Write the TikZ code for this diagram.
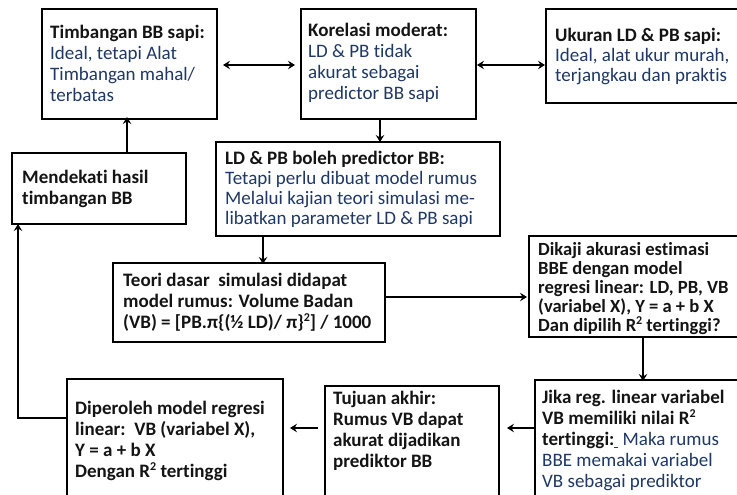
\documentclass[tikz,border=0pt]{standalone}
\usepackage{fontspec}
\setmainfont{Carlito}[Ligatures=NoCommon]
\usetikzlibrary{arrows.meta}
\definecolor{navy}{RGB}{31,56,100}
\definecolor{ink}{RGB}{20,20,20}
\newcommand{\rsq}{\raisebox{0.36em}{\fontsize{12}{12}\selectfont 2}}
\begin{document}
\begin{tikzpicture}[x=1pt,y=-1pt,
  box/.style={draw=black, line width=1.6pt, anchor=north west, inner sep=0pt, outer sep=0pt},
  txt/.style={align=left, inner sep=0pt, text=navy, font=\fontsize{19}{21}\selectfont},
  btxt/.style={txt, text=ink, font=\fontsize{19}{21}\selectfont\bfseries},
  arr/.style={-{Stealth[length=7pt,width=8.5pt,inset=2.5pt]}, line width=1.5pt},
  darr/.style={{Stealth[length=7pt,width=8.5pt,inset=2.5pt]}-{Stealth[length=7pt,width=8.5pt,inset=2.5pt]}, line width=1.5pt}]
\useasboundingbox (0,0) rectangle (737,495);
\clip (0,0) rectangle (737,495);
\fill[white] (0,0) rectangle (737,495);
% boxes
\node[box, minimum width=175, minimum height=110] (b1) at (42,9) {};
\node[box, minimum width=175, minimum height=110] (b2) at (301,9) {};
\node[box, minimum width=205, minimum height=94] (b3) at (546,9) {};
\node[box, minimum width=284, minimum height=94] (b4) at (216,142) {};
\node[box, minimum width=174, minimum height=71] (b5) at (12,153) {};
\node[box, minimum width=272, minimum height=79] (b6) at (113,263) {};
\node[box, minimum width=220, minimum height=101] (b7) at (529,236) {};
\node[box, minimum width=220, minimum height=140] (b8) at (535,380) {};
\node[box, minimum width=174, minimum height=140] (b9) at (325,386) {};
\node[box, minimum width=216, minimum height=140] (b10) at (67,379) {};
% texts
\node[txt, anchor=west] (t1) at ([xshift=8,yshift=1]b1.west) {\textcolor{ink}{\textbf{Timbangan BB sapi:}}\\Ideal, tetapi Alat\\Timbangan mahal/\\terbatas};
\node[txt, anchor=west] (t2) at ([xshift=7,yshift=1]b2.west) {\textcolor{ink}{\textbf{Korelasi moderat:}}\\LD \& PB tidak\\akurat sebagai\\predictor BB sapi};
\node[txt, anchor=west, font=\fontsize{19}{20}\selectfont] (t3) at ([xshift=9]b3.west) {\textcolor{ink}{\textbf{Ukuran LD \& PB sapi:}}\\Ideal, alat ukur murah,\\terjangkau dan praktis};
\node[txt, anchor=west, font=\fontsize{19}{20}\selectfont] (t4) at ([xshift=9]b4.west) {\textcolor{ink}{\textbf{LD \& PB boleh predictor BB:}}\\Tetapi perlu dibuat model rumus\\Melalui kajian teori simulasi me-\\libatkan parameter LD \& PB sapi};
\node[btxt, anchor=west] (t5) at ([xshift=10]b5.west) {Mendekati hasil\\timbangan BB};
\node[btxt, anchor=west] (t6) at ([xshift=10]b6.west) {Teori dasar\ \ simulasi didapat\\model rumus: Volume Badan\\(VB) = [PB.π\{(½ LD)/ π\}\rsq] / 1000};
\node[btxt, anchor=north west, font=\fontsize{18.6}{19}\selectfont\bfseries] (t7) at ([shift={(9,6)}]b7.north west) {Dikaji akurasi estimasi\\BBE dengan model\\regresi linear: LD, PB, VB\\(variabel X), Y = a + b X\\Dan dipilih R\rsq{} tertinggi?};
\node[txt, anchor=north west] (t8) at ([shift={(7,10)}]b8.north west) {\textcolor{ink}{\textbf{Jika reg. linear variabel}}\\\textcolor{ink}{\textbf{VB memiliki nilai R\rsq}}\\\textcolor{ink}{\textbf{tertinggi:}}\underline{\hspace{4pt}} Maka rumus\\BBE memakai variabel\\VB sebagai prediktor};
\node[btxt, anchor=north west] (t9) at ([shift={(8,5)}]b9.north west) {Tujuan akhir:\\Rumus VB dapat\\akurat dijadikan\\prediktor BB};
\node[btxt, anchor=north west] (t10) at ([shift={(8,22)}]b10.north west) {Diperoleh model regresi\\linear:\ \ VB (variabel X),\\Y = a + b X\\Dengan R\rsq{} tertinggi};
% helper coordinates
\coordinate (y65) at (0,65);
\coordinate (x380) at (380,0);
\coordinate (x127) at (127,0);
\coordinate (x263) at (263,0);
\coordinate (y297) at (0,297);
\coordinate (x643) at (643,0);
\coordinate (y428) at (0,428);
\coordinate (y418) at (0,418);
\coordinate (x18) at (18,0);
% connectors
\draw[darr] ([xshift=6]b1.east |- y65) -- ([xshift=-6]b2.west |- y65);
\draw[darr] ([xshift=1]b2.east |- y65) -- ([xshift=-1]b3.west |- y65);
\draw[arr] (b2.south -| x380) -- (b4.north -| x380);
\draw[arr] (b5.north -| x127) -- ([yshift=2]b1.south -| x127);
\draw[arr] (b4.south -| x263) -- ([yshift=-1]b6.north -| x263);
\draw[arr] (b6.east |- y297) -- ([xshift=-2]b7.west |- y297);
\draw[arr] (b7.south -| x643) -- ([yshift=-1]b8.north -| x643);
\draw[arr] (b8.west |- y428) -- ([xshift=8]b9.east |- y428);
\draw[arr] ([xshift=-7]b9.west |- y428) -- ([xshift=7]b10.east |- y428);
\draw[arr] (b10.west |- y418) -| (b5.south -| x18);
\end{tikzpicture}
\end{document}
